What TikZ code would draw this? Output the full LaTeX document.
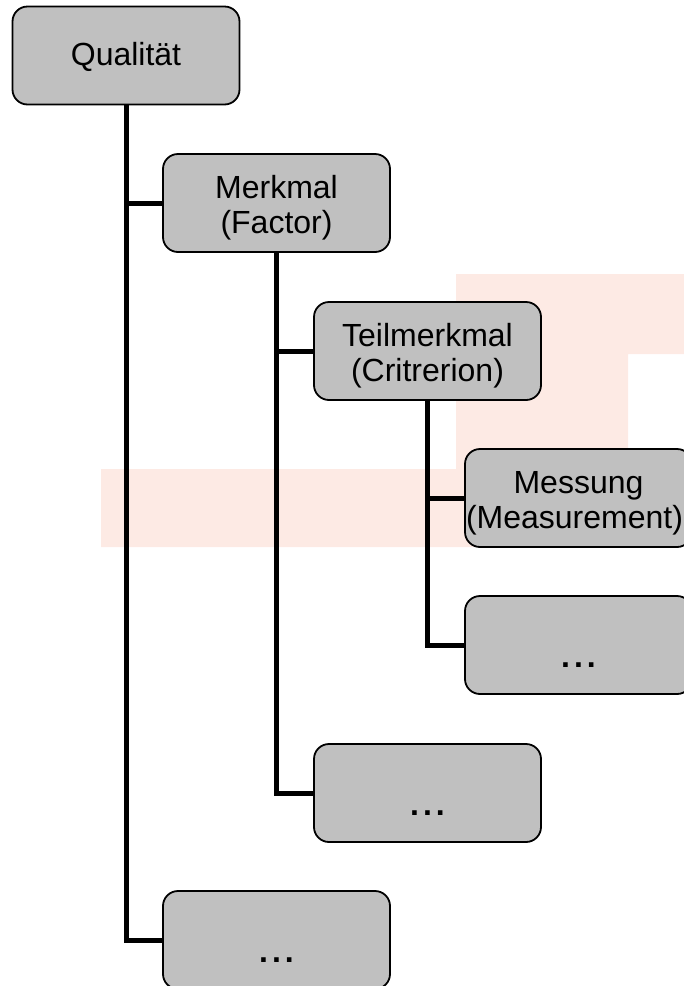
\documentclass[tikz,border=0pt]{standalone}
\usepackage{fontspec}
\setmainfont{Liberation Sans}
\definecolor{boxgray}{RGB}{192,192,192}
\definecolor{logopink}{RGB}{253,234,228}
\newcommand{\moredots}{\bfseries.\kern4pt.\kern4pt.}
\newcommand{\lowerline}{\rule{0pt}{32pt}}

\begin{document}
\begin{tikzpicture}[x=1pt,y=-1pt,
    level/.style={draw=black,line width=1.8pt,fill=boxgray,rounded corners=15pt,
        minimum width=227pt,minimum height=98pt,inner sep=0pt,align=center,
        font=\fontsize{32}{35}\selectfont},
    more/.style={level,text height=44pt,text depth=0pt},
    link/.style={line width=5pt}]
    \useasboundingbox (0,0) rectangle (684,986);

    % Background logo
    \fill[logopink] (101,469) -- (456,469) -- (456,274) -- (684,274) -- (684,354)
        -- (628,354) -- (628,547) -- (101,547) -- cycle;

    % Boxes
    \node[level,text height=26pt] (qual) at (126,55.5) {Qualität};
    \node[level] (merkmal) at (276.5,203) {\lowerline Merkmal\\(Factor)};
    \node[level] (teil) at (427.5,351) {\lowerline Teilmerkmal\\(Critrerion)};
    \node[level] (messung) at (578.5,498) {\lowerline Messung\\(Measurement)\kern8pt};
    \node[more] (moreC) at (578.5,645) {\moredots};
    \node[more] (moreB) at (427.5,793) {\moredots};
    \node[more] (moreA) at (276.5,940) {\moredots};

    % Links
    \draw[link] (qual.south) |- (merkmal.west);
    \draw[link] (qual.south) |- (moreA.west);
    \draw[link] (merkmal.south) |- (teil.west);
    \draw[link] (merkmal.south) |- (moreB.west);
    \draw[link] (teil.south) |- (messung.west);
    \draw[link] (teil.south) |- (moreC.west);
\end{tikzpicture}
\end{document}
